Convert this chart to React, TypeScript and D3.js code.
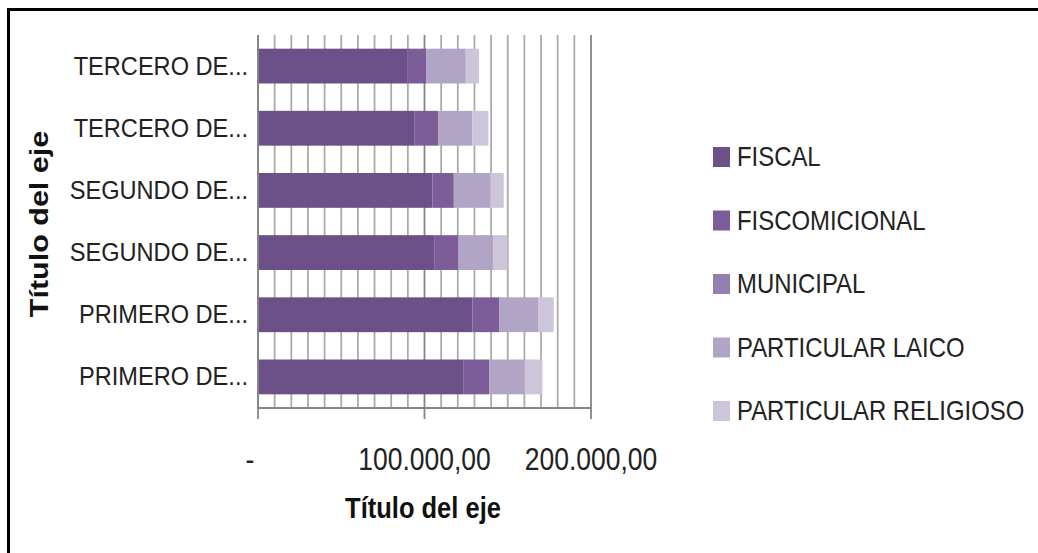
import React from "react";
import * as d3 from "d3";

const categories = ["PRIMERO DE...", "PRIMERO DE...", "SEGUNDO DE...", "SEGUNDO DE...", "TERCERO DE...", "TERCERO DE..."];
const seriesNames = ["FISCAL", "FISCOMICIONAL", "MUNICIPAL", "PARTICULAR LAICO", "PARTICULAR RELIGIOSO"];
const fiscal = [123200, 128800, 105800, 104800, 93800, 89600];
const fiscomicional = [15600, 16000, 14600, 12800, 14600, 11600];
const municipal = [0, 0, 0, 0, 0, 0];
const particularLaico = [21400, 23400, 20800, 22000, 20400, 23600];
const particularReligioso = [10600, 9400, 8600, 8000, 9600, 8000];
const xTicks = [0, 100000, 200000];
const xTickLabels = ["-", "100.000,00", "200.000,00"];
const colors = ["#6b5188", "#7c5d9a", "#9380ae", "#b1a5c5", "#cdc5da"];

const W = 1038;
const H = 553;
const FONT = "'Liberation Sans', Arial, sans-serif";

export default function App() {
  const x = d3.scaleLinear().domain([0, 200000]).range([258, 591]);
  const idx = categories.map((_, i) => String(i));
  const y = d3.scaleBand().domain(idx.slice().reverse()).range([35, 408]).paddingInner(0.44).paddingOuter(0.22);
  const table = categories.map((c, i) => ({
    key: String(i),
    FISCAL: fiscal[i],
    FISCOMICIONAL: fiscomicional[i],
    MUNICIPAL: municipal[i],
    "PARTICULAR LAICO": particularLaico[i],
    "PARTICULAR RELIGIOSO": particularReligioso[i],
  }));
  const stacked = d3.stack<any>().keys(seriesNames)(table);
  const minor = d3.range(0, 200001, 10000);
  const yTop = 35;
  const yBot = 408;

  return (
    <svg width={W} height={H} style={{ position: "absolute", left: 0, top: 0, background: "#fff" }}>
      <rect x={0} y={0} width={W} height={H} fill="#fff" />
      <line x1={8.5} x2={W} y1={9.5} y2={9.5} stroke="#000" strokeWidth={3} />
      <line x1={8.5} x2={8.5} y1={8} y2={H} stroke="#000" strokeWidth={3} />
      {/* gridlines */}
      {minor.map((v) => (
        <line key={"g" + v} x1={x(v)} x2={x(v)} y1={yTop} y2={yBot}
          stroke={v % 100000 === 0 ? "#858585" : "#ababab"} strokeWidth={v % 100000 === 0 ? 1.8 : 1.8} />
      ))}
      {/* bars */}
      {stacked.map((s, si) => (
        <g key={s.key} fill={colors[si]}>
          {s.map((d: any, i: number) => (
            <rect key={i} x={x(d[0])} y={y(String(i))} width={Math.max(0, x(d[1]) - x(d[0]))} height={y.bandwidth()} />
          ))}
        </g>
      ))}
      {/* axes */}
      <line x1={258} x2={258} y1={yTop} y2={yBot} stroke="#858585" strokeWidth={1.8} />
      <line x1={x(0)} x2={x(200000)} y1={yBot} y2={yBot} stroke="#858585" strokeWidth={1.8} />
      {xTicks.map((v) => (
        <line key={"t" + v} x1={x(v)} x2={x(v)} y1={yBot} y2={yBot + 11} stroke="#858585" strokeWidth={1.8} />
      ))}
      {xTicks.map((v, i) => (
        <text key={"l" + v} transform={`translate(${x(v) + (i === 0 ? -8 : 0)},470) scale(1,1.15)`} textAnchor="middle"
          fontFamily={FONT} fontSize={26.5} fill="#222">{xTickLabels[i]}</text>
      ))}
      {/* category labels */}
      {categories.map((c, i) => (
        <text key={"c" + i} transform={`translate(248,${(y(String(i)) as number) + y.bandwidth() / 2 + 8.5}) scale(1,1.1)`}
          textAnchor="end" fontFamily={FONT} fontSize={23.6} fill="#222">{c}</text>
      ))}
      {/* axis titles */}
      <text transform="translate(423,518) scale(1,1.15)" textAnchor="middle" fontFamily={FONT} fontSize={25.5} fontWeight="bold" fill="#111">Título del eje</text>
      <text transform="translate(48,224) rotate(-90) scale(1.22,1)" textAnchor="middle" fontFamily={FONT} fontSize={25} fontWeight="bold" fill="#111">Título del eje</text>
      {/* legend */}
      {seriesNames.map((n, i) => {
        const cy = 157 + i * 63.5;
        return (
          <g key={"lg" + n}>
            <rect x={713} y={cy - 10} width={17} height={20} fill={colors[i]} />
            <text transform={`translate(737,${cy + 9}) scale(1,1.15)`} fontFamily={FONT} fontSize={23.9} fill="#222">{n}</text>
          </g>
        );
      })}
    </svg>
  );
}
